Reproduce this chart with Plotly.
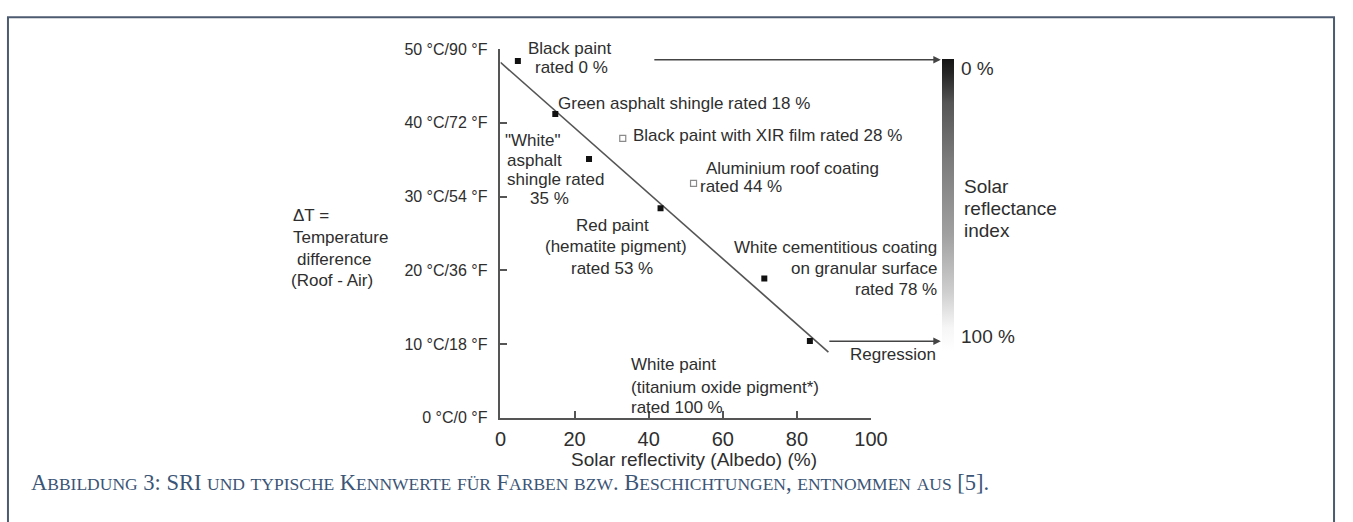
import plotly.graph_objects as go

# ---------------- data ----------------
materials = ["Black paint", "Green asphalt shingle", "\"White\" asphalt shingle",
             "Black paint with XIR film", "Red paint", "Aluminium roof coating",
             "White cementitious coating", "White paint"]
albedo = [4.7, 14.8, 23.9, 33.0, 43.2, 52.1, 71.2, 83.5]          # %
delta_t = [48.4, 41.2, 35.1, 37.9, 28.4, 31.8, 18.9, 10.4]       # °C
sri_rating = [0, 18, 35, 28, 53, 44, 78, 100]                    # %
open_marker = [False, False, False, True, False, True, False, False]

regression_x = [0, 88.5]
regression_y = [48.2, 8.9]

y_tick_vals = [0, 10, 20, 30, 40, 50]
y_tick_text = ["0 °C/0 °F", "10 °C/18 °F", "20 °C/36 °F", "30 °C/54 °F",
               "40 °C/72 °F", "50 °C/90 °F"]
x_tick_vals = [0, 20, 40, 60, 80, 100]

sri_range = [0, 100]

caption = ("Abbildung 3: SRI und typische Kennwerte für Farben bzw. "
           "Beschichtungen, entnommen aus [5].")

# ---------------- helpers (pixel -> paper) ----------------
W, H = 1353, 522
def px(x):
    return x / W
def py(y):
    return 1 - y / H

SANS = "Arial, Liberation Sans, sans-serif"
SERIF = "Times New Roman, Liberation Serif, serif"
TXT = "#2e2e2e"
AX = "#555555"

fig = go.Figure()

# regression line
fig.add_trace(go.Scatter(x=regression_x, y=regression_y, mode="lines",
                         line=dict(color="#555555", width=1.6),
                         hoverinfo="skip", showlegend=False))

# filled points
fx = [a for a, o in zip(albedo, open_marker) if not o]
fy = [d for d, o in zip(delta_t, open_marker) if not o]
fig.add_trace(go.Scatter(x=fx, y=fy, mode="markers",
                         marker=dict(symbol="square", size=6, color="#111111"),
                         showlegend=False))
# open points
ox = [a for a, o in zip(albedo, open_marker) if o]
oy = [d for d, o in zip(delta_t, open_marker) if o]
fig.add_trace(go.Scatter(x=ox, y=oy, mode="markers",
                         marker=dict(symbol="square-open", size=6, color="#8a8a8a",
                                     line=dict(width=1.2)),
                         showlegend=False))

# colour bar (solar reflectance index)
fig.add_trace(go.Scatter(
    x=[None], y=[None], mode="markers", showlegend=False, hoverinfo="skip",
    marker=dict(color=[sri_range[0]], cmin=sri_range[0], cmax=sri_range[1],
                colorscale=[[0.0, "#ffffff"], [0.08, "#f6f6f6"], [0.2, "#cfcfcf"],
                            [0.4, "#a0a0a0"], [0.65, "#7c7c7c"], [0.85, "#555555"],
                            [0.95, "#262626"], [1.0, "#151515"]],
                showscale=True,
                colorbar=dict(thickness=11.5, thicknessmode="pixels",
                              len=292, lenmode="pixels",
                              x=px(952.5), xanchor="left",
                              y=py(53), yanchor="top",
                              xpad=0, ypad=0, outlinewidth=0,
                              ticks="", showticklabels=False))))

fig.update_layout(
    width=W, height=H,
    margin=dict(l=0, r=0, t=0, b=0),
    paper_bgcolor="white", plot_bgcolor="white",
    font=dict(family=SANS, color=TXT),
    xaxis=dict(domain=[px(503), px(880)], range=[0, 100],
               tickvals=x_tick_vals, ticks="inside", ticklen=7, tickwidth=1.5,
               tickcolor=AX, showline=True, linecolor=AX, linewidth=1.6,
               showgrid=False, zeroline=False,
               tickfont=dict(size=20, color=TXT, family=SANS),
               ticklabelstandoff=2),
    yaxis=dict(domain=[py(423.5), py(42.5)], range=[0, 50],
               tickvals=y_tick_vals, ticktext=y_tick_text,
               ticks="inside", ticklen=7, tickwidth=1.5, tickcolor=AX,
               showline=True, linecolor=AX, linewidth=1.6,
               showgrid=False, zeroline=False,
               tickfont=dict(size=16, color=TXT, family=SANS),
               ticklabelstandoff=8),
)

# ---------------- text annotations ----------------
def label(text, x, y, anchor="left", size=17, family=SANS, color=TXT):
    fig.add_annotation(text=text, x=px(x), y=py(y), xref="paper", yref="paper",
                       xanchor=anchor, yanchor="middle", showarrow=False,
                       font=dict(size=size, family=family, color=color),
                       borderpad=0, borderwidth=0)

# point labels
label("Black paint", 573, 42, "center")
label("rated 0 %", 575, 61, "center")
label("Green asphalt shingle rated 18 %", 562, 99)
label("Black paint with XIR film rated 28 %", 638, 132)
label("Aluminium roof coating", 800, 166, "center")
label("rated 44 %", 706, 185)
label("\"White\"", 508, 137)
label("asphalt", 510, 158)
label("shingle rated", 510, 177)
label("35 %", 553, 197, "center")
label("Red paint", 617, 225, "center")
label("(hematite pigment)", 621, 247, "center")
label("rated 53 %", 616, 269, "center")
label("White cementitious coating", 947, 248, "right")
label("on granular surface", 947, 269, "right")
label("rated 78 %", 947, 291, "right")
label("White paint", 636, 369)
label("(titanium oxide pigment*)", 636, 392)
label("rated 100 %", 636, 413)
label("Regression", 946, 358, "right")

# y-axis title
label("ΔT =", 292, 215)
label("Temperature", 292, 237)
label("difference", 296, 260)
label("(Roof - Air)", 290, 282)

# x-axis title
label("Solar reflectivity (Albedo) (%)", 700, 467, "center", size=19)

# colour bar labels
label("0 %", 972, 63, size=19)
label("100 %", 972, 340, size=19)
label("Solar", 975, 184, size=19)
label("reflectance", 975, 207, size=19)
label("index", 975, 230, size=19)

# arrows to the colour bar
for x0, x1, y in [(663, 951, 53.5), (838, 951, 344.5)]:
    fig.add_annotation(x=px(x1), y=py(y), xref="paper", yref="paper",
                       ax=-(x1 - x0), ay=0, axref="pixel", ayref="pixel",
                       text="", showarrow=True, arrowhead=2, arrowsize=1.0,
                       arrowwidth=1.5, arrowcolor="#444444")

# caption in small caps
def small_caps(s, big=22.5, small=17.5):
    out, buf, mode = [], "", None
    for ch in s:
        m = "s" if ch.islower() else "b"
        if m != mode and buf:
            out.append((mode, buf))
            buf = ""
        mode = m
        buf += ch.upper() if m == "s" else ch
    if buf:
        out.append((mode, buf))
    parts = []
    for m, t in out:
        size = small if m == "s" else big
        parts.append(f"<span style='font-size:{size}px'>{t}</span>")
    return "".join(parts)

fig.add_annotation(text=small_caps(caption), x=px(24), y=py(490),
                   xref="paper", yref="paper", xanchor="left", yanchor="middle",
                   showarrow=False, borderpad=0,
                   font=dict(size=22.5, family=SERIF, color="#3b5576"))

# frame around the figure
fig.add_shape(type="rect", xref="paper", yref="paper",
              x0=px(2), x1=px(1351), y0=-0.1, y1=py(9.5),
              line=dict(color="#4d5b70", width=2), fillcolor="rgba(0,0,0,0)",
              layer="below")

fig.write_html("out.html",
               config={"displayModeBar": False},
               post_script="document.body.style.margin='0';"
                           "document.body.style.overflow='hidden';")
